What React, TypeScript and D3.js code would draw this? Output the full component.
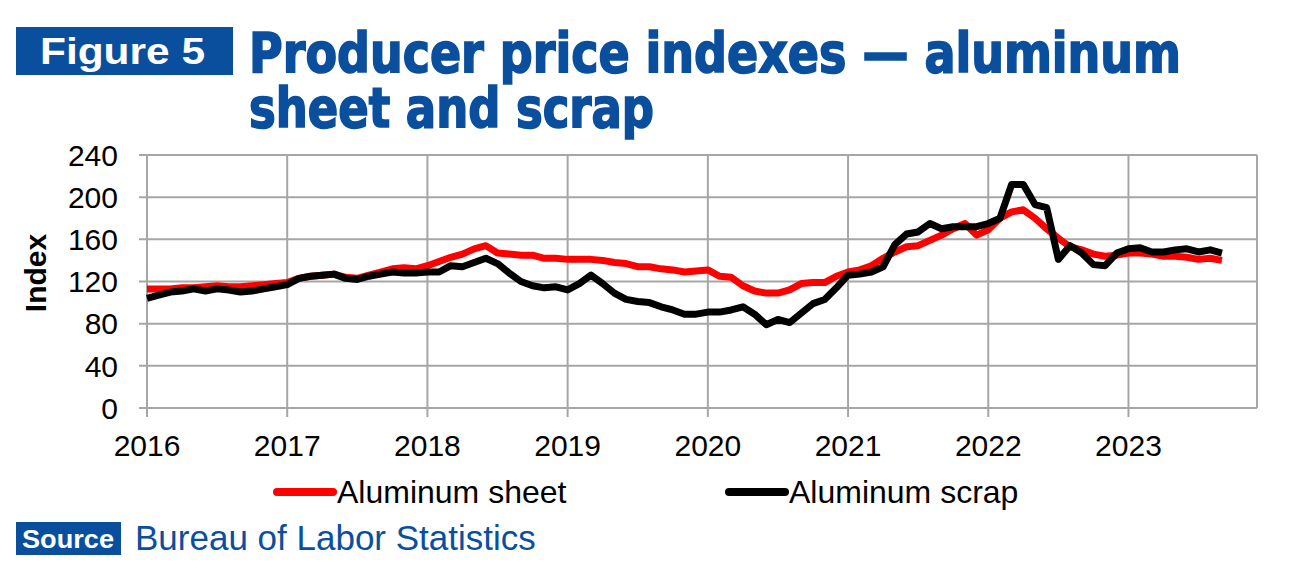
import React from "react";
import * as d3 from "d3";

const yearLabels = ["2016", "2017", "2018", "2019", "2020", "2021", "2022", "2023"];
const yTicks = [0, 40, 80, 120, 160, 200, 240];

// Monthly values, Jan 2016 - Sep 2023
const aluminumSheet = [
  113, 113, 113, 114, 114, 115, 116, 115, 115, 116, 117, 118,
  119, 123, 125, 126, 127, 124, 123, 126, 129, 132, 133, 132,
  135, 139, 143, 146, 151, 154, 147, 146, 145, 145, 142, 142,
  141, 141, 141, 140, 138, 137, 134, 134, 132, 131, 129, 130,
  131, 125, 124, 116, 111, 109, 109, 112, 118, 119, 119, 125,
  129, 131, 135, 142, 148, 153, 154, 159, 164, 170, 175, 164,
  169, 180, 186, 188, 180, 170, 161, 153, 150, 146, 144, 145,
  147, 147, 146, 144, 144, 143, 141, 142, 140,
];
const aluminumScrap = [
  104, 107, 110, 111, 113, 111, 113, 112, 110, 111, 113, 115,
  117, 123, 125, 126, 127, 123, 122, 125, 127, 129, 128, 128,
  129, 129, 135, 134, 138, 142, 137, 128, 120, 116, 114, 115,
  112, 118, 126, 118, 109, 103, 101, 100, 96, 93, 89, 89,
  91, 91, 93, 96, 89, 79, 84, 81, 90, 99, 103, 114,
  126, 127, 129, 134, 155, 165, 167, 175, 170, 172, 172, 172,
  175, 180, 212, 212, 193, 190, 141, 154, 147, 136, 135, 147,
  151, 152, 148, 148, 150, 151, 148, 150, 147,
];
const seriesNames = ["Aluminum sheet", "Aluminum scrap"];
const seriesColors = ["#ff0000", "#000000"];

const BLUE = "#0a4f9e";
const GRID = "#a6a6a6";

export default function App() {
  const left = 147;
  const right = 1257;
  const top = 155;
  const bottom = 408;

  const x = d3.scaleLinear().domain([0, 95]).range([left, right]);
  const y = d3.scaleLinear().domain([0, 240]).range([bottom, top]);

  const line = d3
    .line<number>()
    .x((_, i) => x(i))
    .y((d) => y(d));

  const series = [aluminumSheet, aluminumScrap];

  return (
    <svg
      width={1300}
      height={588}
      style={{ position: "absolute", left: 0, top: 0, background: "#fff" }}
      fontFamily="'Liberation Sans', Arial, sans-serif"
    >
      {/* Title */}
      <rect x={16} y={27} width={217} height={48} fill={BLUE} />
      <text x={40} y={64} fill="#fff" fontSize={36} fontWeight="bold" textLength={165} lengthAdjust="spacingAndGlyphs">
        Figure 5
      </text>
      <text
        x={249}
        y={72}
        fill={BLUE}
        stroke={BLUE}
        strokeWidth={1.6}
        fontSize={55}
        fontWeight="bold"
        fontFamily="'DejaVu Sans Condensed', 'DejaVu Sans', sans-serif"
        textLength={932}
        lengthAdjust="spacingAndGlyphs"
      >
        Producer price indexes — aluminum
      </text>
      <text
        x={249}
        y={127}
        fill={BLUE}
        stroke={BLUE}
        strokeWidth={1.6}
        fontSize={55}
        fontWeight="bold"
        fontFamily="'DejaVu Sans Condensed', 'DejaVu Sans', sans-serif"
        textLength={405}
        lengthAdjust="spacingAndGlyphs"
      >
        sheet and scrap
      </text>

      {/* Horizontal grid + y ticks */}
      {yTicks.map((t) => (
        <g key={"y" + t}>
          <line x1={left - 8} x2={right} y1={y(t)} y2={y(t)} stroke={GRID} strokeWidth={2} />
          <text x={118} y={y(t)} dy="0.36em" textAnchor="end" fontSize={30} fill="#000">
            {t}
          </text>
        </g>
      ))}
      {/* Vertical grid + x ticks */}
      {yearLabels.map((lab, i) => (
        <g key={"x" + lab}>
          <line x1={x(i * 12)} x2={x(i * 12)} y1={top} y2={bottom + 9} stroke={GRID} strokeWidth={2} />
          <text x={x(i * 12)} y={456} textAnchor="middle" fontSize={30} fill="#000">
            {lab}
          </text>
        </g>
      ))}
      <line x1={right} x2={right} y1={top} y2={bottom} stroke={GRID} strokeWidth={2} />

      {/* Axis title */}
      <text
        transform={`translate(46, 273) rotate(-90)`}
        textAnchor="middle"
        fontSize={30}
        fontWeight="bold"
        fill="#000"
      >
        Index
      </text>

      {/* Lines */}
      {series.map((s, k) => (
        <path
          key={"s" + k}
          d={line(s) || ""}
          fill="none"
          stroke={seriesColors[k]}
          strokeWidth={7}
          strokeLinejoin="round"
        />
      ))}

      {/* Legend */}
      {seriesNames.map((name, k) => {
        const lx = k === 0 ? 273 : 725;
        return (
          <g key={"l" + k}>
            <line x1={lx + 4} x2={lx + 60} y1={492} y2={492} stroke={seriesColors[k]} strokeWidth={8} strokeLinecap="round" />
            <text x={lx + 64} y={503} fontSize={32} fill="#000">
              {name}
            </text>
          </g>
        );
      })}

      {/* Source */}
      <rect x={16} y={522} width={105} height={33} fill={BLUE} />
      <text x={22} y={548} fill="#fff" fontSize={26} fontWeight="bold" textLength={92} lengthAdjust="spacingAndGlyphs">
        Source
      </text>
      <text x={135} y={550} fill={BLUE} fontSize={35}>
        Bureau of Labor Statistics
      </text>
    </svg>
  );
}
